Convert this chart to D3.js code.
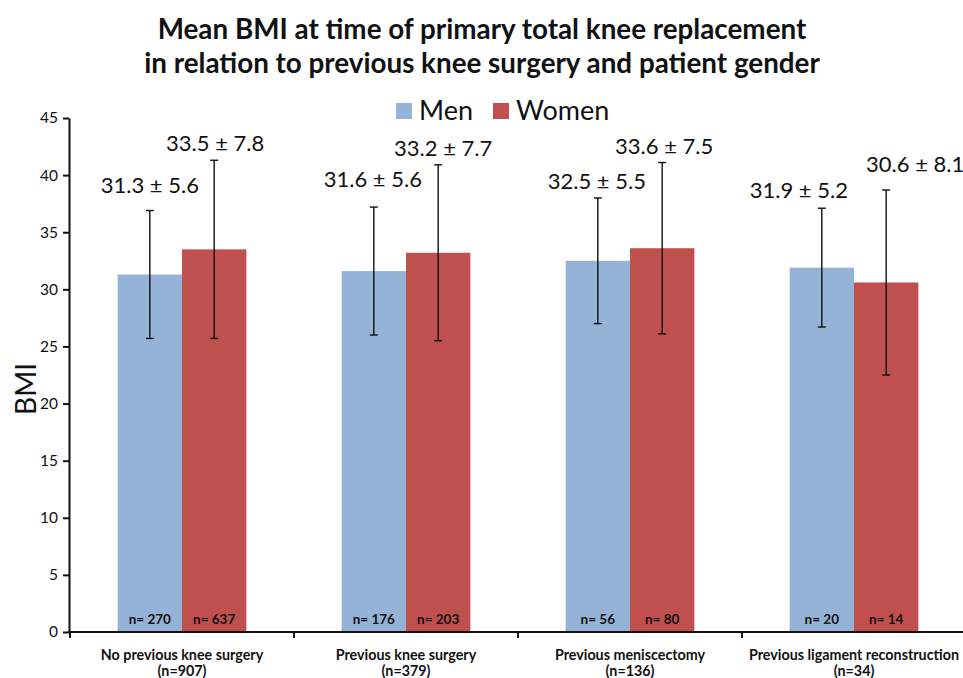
<!DOCTYPE html>
<html>
<head>
<meta charset="utf-8">
<script src="https://cdn.jsdelivr.net/npm/d3@7/dist/d3.min.js"></script>
<style>
  html, body { margin: 0; padding: 0; background: #fff; }
  svg { display: block; }
  text { font-family: Lato, "Open Sans", "Liberation Sans", sans-serif; fill: #111; }
</style>
</head>
<body>
<svg id="chart" width="963" height="678"></svg>
<script>
// ---- data ----
const categories = ["No previous knee surgery", "Previous knee surgery", "Previous meniscectomy", "Previous ligament reconstruction"];
const categoryN = ["(n=907)", "(n=379)", "(n=136)", "(n=34)"];
const series = ["Men", "Women"];
const menMean = [31.3, 31.6, 32.5, 31.9];
const menSD = [5.6, 5.6, 5.5, 5.2];
const menN = [270, 176, 56, 20];
const womenMean = [33.5, 33.2, 33.6, 30.6];
const womenSD = [7.8, 7.7, 7.5, 8.1];
const womenN = [637, 203, 80, 14];
const yTicks = [0, 5, 10, 15, 20, 25, 30, 35, 40, 45];
const titleLines = ["Mean BMI at time of primary total knee replacement", "in relation to previous knee surgery and patient gender"];

// label nudges (layout only): [dx, dy] relative to error-bar top
const labelNudge = {
  Men:   [[0, -18], [-1, -20], [-1, -9], [-23, -10]],
  Women: [[1, -9], [5, -9], [2, -9], [29, -18]]
};

const colors = { Men: "#95B3D7", Women: "#C0504D" };

const rows = [];
categories.forEach((c, i) => {
  rows.push({ cat: c, i, s: "Men", mean: menMean[i], sd: menSD[i], n: menN[i] });
  rows.push({ cat: c, i, s: "Women", mean: womenMean[i], sd: womenSD[i], n: womenN[i] });
});

const svg = d3.select("#chart");
const x0 = d3.scaleBand().domain(categories).range([70, 966]).paddingInner(0).paddingOuter(0);
const x1 = d3.scaleBand().domain(series).range([0, x0.bandwidth()]).paddingInner(0).paddingOuter(0.74);
const y = d3.scaleLinear().domain([0, 45]).range([632, 118]);

// Title
svg.append("g").selectAll("text").data(titleLines).join("text")
  .attr("x", 482).attr("y", (d, i) => 39 + i * 34)
  .attr("text-anchor", "middle")
  .style("font-weight", "bold").style("font-size", "27.8px")
  .text(d => d);

// Legend
const leg = svg.append("g");
const legItems = [{ s: "Men", x: 396 }, { s: "Women", x: 493 }];
legItems.forEach(it => {
  leg.append("rect").attr("x", it.x).attr("y", 103).attr("width", 16).attr("height", 16).attr("fill", colors[it.s]);
  leg.append("text").attr("x", it.x + 23).attr("y", 120).style("font-size", "27px").text(it.s);
});

// Bars
const bars = svg.append("g");
bars.selectAll("rect").data(rows).join("rect")
  .attr("x", d => x0(d.cat) + x1(d.s))
  .attr("width", x1.bandwidth())
  .attr("y", d => y(d.mean))
  .attr("height", d => y(0) - y(d.mean))
  .attr("fill", d => colors[d.s]);

// Error bars
const eb = svg.append("g").attr("stroke", "#111").attr("stroke-width", 1.4);
rows.forEach(d => {
  const cx = x0(d.cat) + x1(d.s) + x1.bandwidth() / 2;
  eb.append("line").attr("x1", cx).attr("x2", cx).attr("y1", y(d.mean + d.sd)).attr("y2", y(d.mean - d.sd));
  [d.mean + d.sd, d.mean - d.sd].forEach(v => {
    eb.append("line").attr("x1", cx - 4).attr("x2", cx + 4).attr("y1", y(v)).attr("y2", y(v));
  });
});

// Value labels
svg.append("g").selectAll("text").data(rows).join("text")
  .attr("x", d => x0(d.cat) + x1(d.s) + x1.bandwidth() / 2 + labelNudge[d.s][d.i][0])
  .attr("y", d => y(d.mean + d.sd) + labelNudge[d.s][d.i][1])
  .attr("text-anchor", "middle")
  .style("font-size", "22px")
  .text(d => d.mean.toFixed(1) + " \u00B1 " + d.sd.toFixed(1));

// n labels
svg.append("g").selectAll("text").data(rows).join("text")
  .attr("x", d => x0(d.cat) + x1(d.s) + x1.bandwidth() / 2)
  .attr("y", 624)
  .attr("text-anchor", "middle")
  .style("font-size", "13.5px").style("font-weight", "bold")
  .text(d => "n= " + d.n);

// Y axis
const yAxis = svg.append("g").attr("transform", "translate(69,0)")
  .call(d3.axisLeft(y).tickValues(yTicks).tickSize(6).tickSizeOuter(0).tickPadding(5));
yAxis.select(".domain").attr("stroke", "#111").attr("stroke-width", 2);
yAxis.selectAll(".tick line").attr("stroke", "#111").attr("stroke-width", 2);
yAxis.selectAll(".tick text").style("font-size", "15.5px").style("font-family", "Lato, sans-serif").attr("fill", "#222");

// X axis
const xAxis = svg.append("g").attr("transform", "translate(0,632)");
xAxis.append("line").attr("x1", 68).attr("x2", 963).attr("y1", 0).attr("y2", 0).attr("stroke", "#111").attr("stroke-width", 2);
categories.forEach(c => {
  const bx = x0(c);
  xAxis.append("line").attr("x1", bx).attr("x2", bx).attr("y1", 0).attr("y2", 6).attr("stroke", "#111").attr("stroke-width", 2);
});
const xl = xAxis.selectAll("text.cat").data(categories).join("text").attr("class", "cat")
  .attr("x", d => x0(d) + x0.bandwidth() / 2)
  .attr("text-anchor", "middle")
  .style("font-size", "14.3px").style("font-weight", "bold");
xl.append("tspan").attr("x", d => x0(d) + x0.bandwidth() / 2).attr("y", 28).text(d => d);
xl.append("tspan").attr("x", d => x0(d) + x0.bandwidth() / 2).attr("y", 44).text((d, i) => categoryN[i]);

// Y label
svg.append("text").attr("transform", "translate(36,389) rotate(-90)")
  .attr("text-anchor", "middle").style("font-size", "28px").text("BMI");
</script>
</body>
</html>
